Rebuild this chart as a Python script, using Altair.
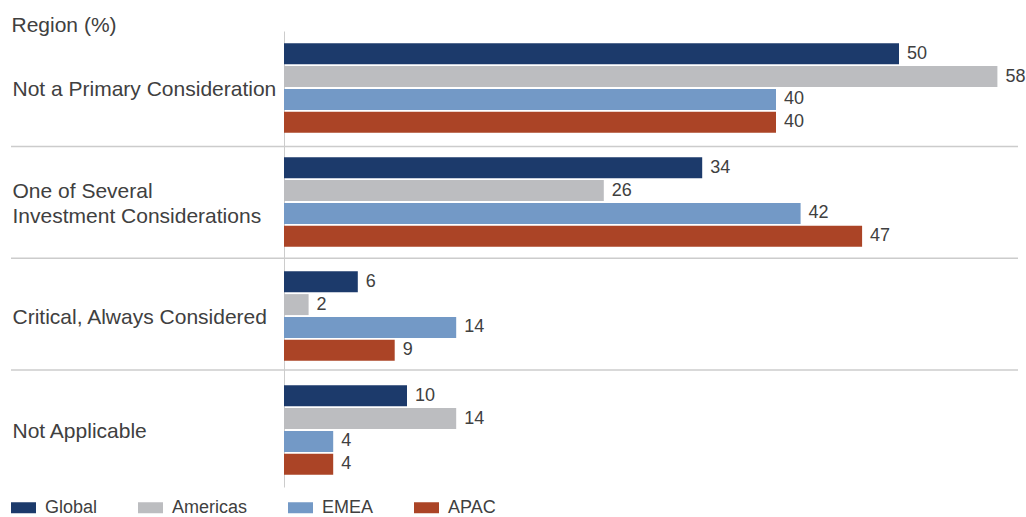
import altair as alt
import pandas as pd

categories = [
    "Not a Primary Consideration",
    "One of Several Investment Considerations",
    "Critical, Always Considered",
    "Not Applicable",
]
regions = ["Global", "Americas", "EMEA", "APAC"]
colors = ["#1c3a6b", "#bcbdc0", "#7399c6", "#ab4426"]

global_vals = [50, 34, 6, 10]
americas_vals = [58, 26, 2, 14]
emea_vals = [40, 42, 14, 4]
apac_vals = [40, 47, 9, 4]

separators = [1, 2, 3]

series = {"Global": global_vals, "Americas": americas_vals, "EMEA": emea_vals, "APAC": apac_vals}
rows = []
for r in regions:
    for c, v in zip(categories, series[r]):
        rows.append({"category": c, "region": r, "value": v})
df = pd.DataFrame(rows)
sep_df = pd.DataFrame({"sep": separators})

FONT = "Liberation Sans"
TXT = "#404040"

label_expr = (
    "datum.label == 'One of Several Investment Considerations' ? "
    "['One of Several', 'Investment Considerations'] : datum.label"
)

y_axis = alt.Axis(
    title="Region (%)",
    titleAngle=0,
    titleAlign="left",
    titleBaseline="alphabetic",
    titleX=-273,
    titleY=0,
    titleFont=FONT,
    titleFontSize=21,
    titleFontWeight="normal",
    titleColor=TXT,
    labelFont=FONT,
    labelFontSize=21,
    labelColor=TXT,
    labelAlign="left",
    labelBaseline="middle",
    labelPadding=272,
    labelLimit=400,
    labelLineHeight=25,
    labelExpr=label_expr,
    labelOffset={
        "condition": {
            "test": "datum.value == 'One of Several Investment Considerations'",
            "value": -10,
        },
        "value": 2,
    },
    ticks=False,
    tickSize=0,
    grid=False,
    domain=True,
    domainColor="#cccccc",
    domainWidth=1,
)

y_scale = alt.Scale(paddingInner=0, paddingOuter=0)
yoff_scale = alt.Scale(paddingInner=0.08, paddingOuter=0.54)
x_scale = alt.Scale(domain=[0, 60], nice=False)

bars = alt.Chart(df).mark_bar().encode(
    y=alt.Y("category:N", sort=categories, scale=y_scale, axis=y_axis),
    yOffset=alt.YOffset("region:N", sort=regions, scale=yoff_scale),
    x=alt.X("value:Q", scale=x_scale, axis=None),
    color=alt.Color(
        "region:N",
        sort=regions,
        scale=alt.Scale(domain=regions, range=colors),
        legend=alt.Legend(
            title=None,
            orient="none",
            direction="horizontal",
            legendX=-273,
            legendY=464,
            symbolType="M -1 -0.44 L 1 -0.44 L 1 0.44 L -1 0.44 Z",
            symbolSize=625,
            symbolStrokeWidth=0,
            symbolOpacity=1,
            labelFont=FONT,
            labelFontSize=18,
            labelColor=TXT,
            labelOffset=9,
            columnPadding=40,
        ),
    ),
)

labels = alt.Chart(df).mark_text(
    align="left", baseline="middle", dx=8, font=FONT, fontSize=18, color=TXT
).encode(
    y=alt.Y("category:N", sort=categories, scale=y_scale, axis=y_axis),
    yOffset=alt.YOffset("region:N", sort=regions, scale=yoff_scale),
    x=alt.X("value:Q", scale=x_scale, axis=None),
    text="value:Q",
)

main = alt.layer(bars, labels)

seps = alt.Chart(sep_df).mark_rule(color="#cccccc", strokeWidth=1.5).encode(
    y=alt.Y("sep:Q", scale=alt.Scale(domain=[-0.034, 4.046], reverse=True, nice=False, zero=False), axis=None),
    x=alt.value(-273),
    x2=alt.value(734),
)

chart = (
    alt.layer(seps, main)
    .resolve_scale(y="independent")
    .properties(
        width=738,
        height=456,
        autosize="none",
        padding={"left": 284, "top": 31, "right": 4, "bottom": 30},
    )
    .configure(background="white")
    .configure_view(stroke=None, strokeWidth=0)
    .configure_axis(grid=False, ticks=False)
)

chart.save("out.html", embed_options={"renderer": "svg", "actions": False})
